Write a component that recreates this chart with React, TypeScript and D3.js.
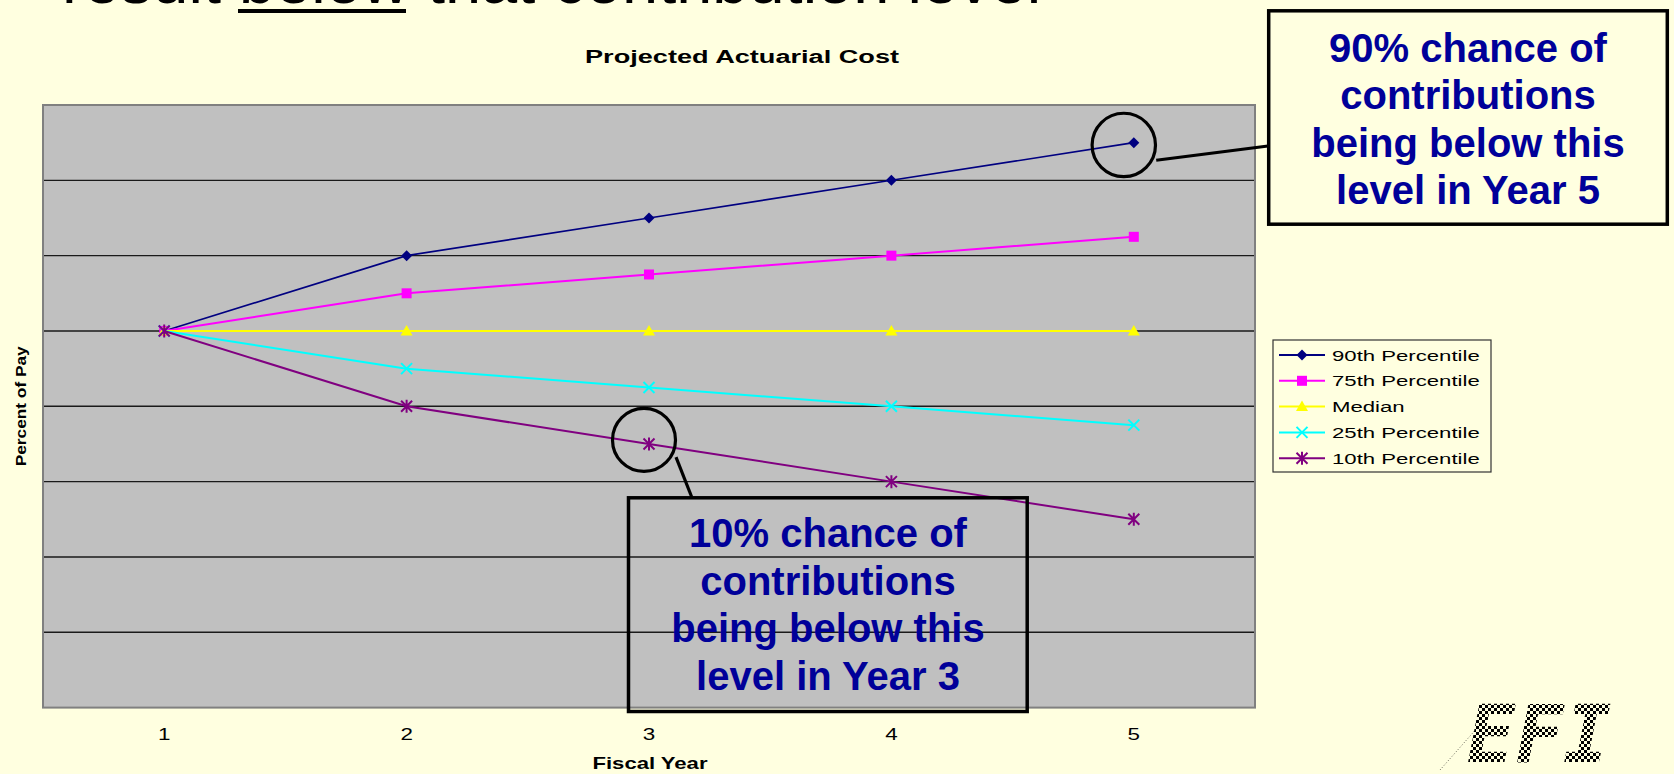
import React from "react";
import * as d3 from "d3";

// Projected contribution levels (percent of pay, unit steps of the value axis)
const years = [1, 2, 3, 4, 5];
const p90 = [5, 6, 6.5, 7, 7.5];
const p75 = [5, 5.5, 5.75, 6, 6.25];
const median = [5, 5, 5, 5, 5];
const p25 = [5, 4.5, 4.25, 4, 3.75];
const p10 = [5, 4, 3.5, 3, 2.5];
const seriesNames = ["90th Percentile", "75th Percentile", "Median", "25th Percentile", "10th Percentile"];
const seriesColors = ["#000080", "#FF00FF", "#FFFF00", "#00FFFF", "#800080"];
const seriesMarkers = ["diamond", "square", "triangle", "x", "star"];
const yDomain = [0, 8];
const gridValues = [1, 2, 3, 4, 5, 6, 7];

const W = 1674;
const H = 774;
const BG = "#FFFFE0";
const FONT = "'Liberation Sans', Arial, Helvetica, sans-serif";
const NAVY_TEXT = "#000099";

const plot = { left: 43, top: 105, right: 1255, bottom: 707.6 };

function Marker({ kind, x, y, color }: { kind: string; x: number; y: number; color: string }) {
  const s = 5.5;
  switch (kind) {
    case "diamond":
      return <path d={`M${x},${y - s}L${x + s},${y}L${x},${y + s}L${x - s},${y}Z`} fill={color} />;
    case "square":
      return <rect x={x - 5} y={y - 5} width={10} height={10} fill={color} />;
    case "triangle":
      return <path d={`M${x},${y - 6}L${x + 6},${y + 4.5}L${x - 6},${y + 4.5}Z`} fill={color} />;
    case "x":
      return (
        <path d={`M${x - s},${y - s}L${x + s},${y + s}M${x - s},${y + s}L${x + s},${y - s}`} stroke={color} strokeWidth={2} />
      );
    default:
      return (
        <path
          d={`M${x - s},${y - s}L${x + s},${y + s}M${x - s},${y + s}L${x + s},${y - s}M${x},${y - s - 1}L${x},${y + s + 1}`}
          stroke={color}
          strokeWidth={2}
        />
      );
  }
}

export default function App() {
  const allSeries = [p90, p75, median, p25, p10];

  const x = d3
    .scaleBand<number>()
    .domain(years)
    .range([plot.left, plot.right])
    .paddingInner(0)
    .paddingOuter(0);
  const cx = (yr: number) => (x(yr) as number) + x.bandwidth() / 2;
  const y = d3.scaleLinear().domain(yDomain).range([plot.bottom, plot.top]);

  const line = d3
    .line<number>()
    .x((_, i) => cx(years[i]))
    .y((v) => y(v));

  // highlighted points for the two callouts
  const hiTop = { x: cx(years[4]) - 10, y: y(p90[4]) + 2.3 };
  const hiBottom = { x: cx(years[2]) - 5, y: y(p10[2]) - 4 };

  const legendY0 = 355;
  const legendStep = 25.8;

  return (
    <svg
      width={W}
      height={H}
      viewBox={`0 0 ${W} ${H}`}
      style={{ position: "absolute", left: 0, top: 0, display: "block" }}
      fontFamily={FONT}
    >
      <defs>
        <pattern id="checker" width={6} height={6} patternUnits="userSpaceOnUse">
          <rect width={6} height={6} fill={BG} />
          <rect x={0} y={0} width={3} height={3} fill="#000" />
          <rect x={3} y={3} width={3} height={3} fill="#000" />
        </pattern>
      </defs>
      <rect width={W} height={H} fill={BG} />

      {/* Slide heading, cut by the top edge */}
      <text x={62} y={3} fontSize={65} fill="#000">
        result below that contribution level
      </text>
      <rect x={238} y={9} width={168} height={4} fill="#000" />

      {/* Chart title */}
      <text x={742} y={63} fontSize={18} fontWeight="bold" textAnchor="middle" textLength={314} lengthAdjust="spacingAndGlyphs">
        Projected Actuarial Cost
      </text>

      {/* Plot area */}
      <rect
        x={plot.left}
        y={plot.top}
        width={plot.right - plot.left}
        height={plot.bottom - plot.top}
        fill="#C0C0C0"
        stroke="#808080"
        strokeWidth={2}
      />
      {gridValues.map((g) => (
        <line key={g} x1={plot.left + 1} x2={plot.right - 1} y1={y(g)} y2={y(g)} stroke="#1a1a1a" strokeWidth={1.4} />
      ))}

      {/* Category labels */}
      {years.map((yr) => (
        <text
          key={yr}
          transform={`translate(${cx(yr)},740) scale(1.4,1)`}
          fontSize={16}
          textAnchor="middle"
          fill="#000"
        >
          {yr}
        </text>
      ))}
      <text x={650} y={769} fontSize={17} fontWeight="bold" textAnchor="middle" textLength={115} lengthAdjust="spacingAndGlyphs">
        Fiscal Year
      </text>
      <text
        transform={`translate(26,${(plot.top + plot.bottom) / 2}) rotate(-90)`}
        fontSize={15}
        fontWeight="bold"
        textAnchor="middle"
        textLength={120}
        lengthAdjust="spacingAndGlyphs"
      >
        Percent of Pay
      </text>

      {/* Series lines and markers */}
      {allSeries.map((vals, si) => (
        <g key={si}>
          <path d={line(vals) as string} fill="none" stroke={seriesColors[si]} strokeWidth={si === 0 ? 1.6 : 2} />
          {vals.map((v, i) => (
            <Marker key={i} kind={seriesMarkers[si]} x={cx(years[i])} y={y(v)} color={seriesColors[si]} />
          ))}
        </g>
      ))}

      {/* Legend */}
      <rect x={1273} y={340} width={218} height={132} fill={BG} stroke="#333" strokeWidth={1.2} />
      {seriesNames.map((name, i) => {
        const ly = legendY0 + i * legendStep;
        return (
          <g key={name}>
            <line x1={1279} x2={1325} y1={ly} y2={ly} stroke={seriesColors[i]} strokeWidth={2} />
            <Marker kind={seriesMarkers[i]} x={1302} y={ly} color={seriesColors[i]} />
            <text transform={`translate(1332,${ly + 5.5}) scale(1.43,1)`} fontSize={15.5} fill="#000">
              {name}
            </text>
          </g>
        );
      })}

      {/* Callout: upper */}
      <circle cx={hiTop.x} cy={hiTop.y} r={31.7} fill="none" stroke="#000" strokeWidth={3.2} />
      <line x1={hiTop.x + 32.4} y1={hiTop.y + 15.3} x2={1268} y2={146} stroke="#000" strokeWidth={3.2} />
      <rect x={1268.7} y={10.8} width={398.6} height={213.4} fill={BG} stroke="#000" strokeWidth={3.5} />
      {["90% chance of", "contributions", "being below this", "level in Year 5"].map((t, i) => (
        <text key={t} x={1468} y={62 + i * 47.3} fontSize={40} fontWeight="bold" fill={NAVY_TEXT} textAnchor="middle">
          {t}
        </text>
      ))}

      {/* Callout: lower */}
      <circle cx={hiBottom.x} cy={hiBottom.y} r={31.5} fill="none" stroke="#000" strokeWidth={3.2} />
      <line x1={hiBottom.x + 32} y1={hiBottom.y + 17.2} x2={691.7} y2={497} stroke="#000" strokeWidth={3.2} />
      <rect x={628.5} y={497.8} width={398.7} height={213.7} fill="none" stroke="#000" strokeWidth={3.5} />
      {["10% chance of", "contributions", "being below this", "level in Year 3"].map((t, i) => (
        <text key={t} x={828} y={547 + i * 47.5} fontSize={40} fontWeight="bold" fill={NAVY_TEXT} textAnchor="middle">
          {t}
        </text>
      ))}

      {/* Logo */}
      <line x1={1440} y1={770} x2={1478} y2={727} stroke="#000" strokeWidth={1} strokeDasharray="1 2" opacity={0.6} />
      <text
        x={1467}
        y={762}
        fontSize={80}
        fontFamily="'DejaVu Sans Mono', monospace"
        fontWeight="bold"
        fontStyle="italic"
        fill="url(#checker)"
      >
        EFI
      </text>
    </svg>
  );
}
